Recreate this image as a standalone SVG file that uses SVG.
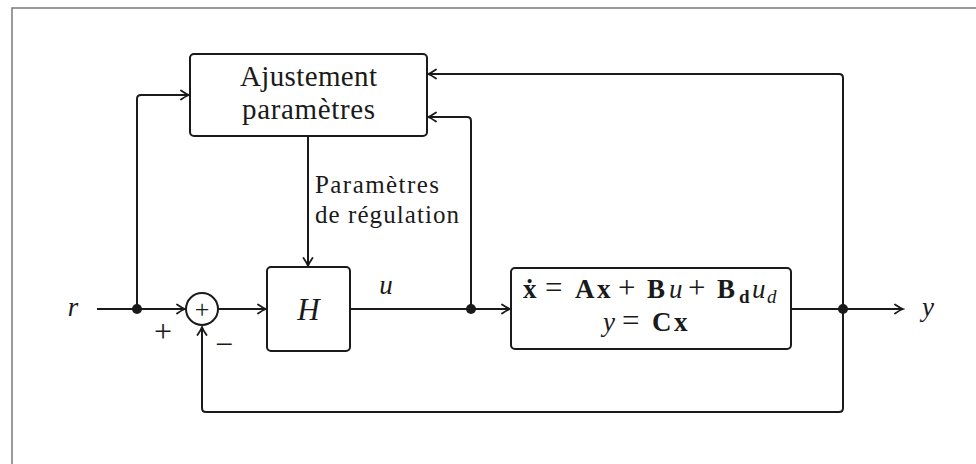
<svg xmlns="http://www.w3.org/2000/svg" width="976" height="464" viewBox="0 0 976 464">
<style>
.frame{fill:none;stroke:#7a7a7a;stroke-width:1.5}
.box{fill:#fff;stroke:#1a1a1a;stroke-width:2}
.ln{fill:none;stroke:#1a1a1a;stroke-width:2;stroke-linejoin:round}
.arr{marker-end:url(#ah)}
.dot{fill:#1a1a1a}
.t{fill:#1a1a1a}
.it{font-style:italic}
.b{font-weight:bold}
.op{font-size:31px}
</style>
<defs>
<marker id="ah" viewBox="-10 -6 12 12" refX="0" refY="0" markerWidth="12" markerHeight="12" markerUnits="userSpaceOnUse" orient="auto">
<path d="M-8,-4.5 Q-3,-1 0,0 Q-3,1 -8,4.5" fill="none" stroke="#1a1a1a" stroke-width="1.8" stroke-linecap="round"/>
</marker>
</defs>
<rect class="frame" x="12" y="8" width="980" height="470"/>
<g id="connectors">
<path class="ln arr" d="M97,309 H185"/>
<path class="ln arr" d="M137,309 V99 Q137,95 141,95 H189"/>
<path class="ln arr" d="M218,309 H266"/>
<path class="ln arr" d="M308,136 V266"/>
<path class="ln arr" d="M350,309 H510"/>
<path class="ln arr" d="M471,309 V121 Q471,117 467,117 H428"/>
<path class="ln arr" d="M791,309 H903"/>
<path class="ln arr" d="M843,309 V78 Q843,74 839,74 H428"/>
<path class="ln arr" d="M843,309 V408 Q843,412 839,412 H206 Q202,412 202,408 V327"/>
<circle class="dot" cx="137" cy="309" r="5"/>
<circle class="dot" cx="471" cy="309" r="5"/>
<circle class="dot" cx="843" cy="309" r="5"/>
</g>
<g font-family="'Liberation Serif', 'Times New Roman', serif" class="t">
<g id="ajustement">
<rect class="box" x="190" y="54" width="237" height="82" rx="4"/>
<text x="308.5" y="86" font-size="29" text-anchor="middle" textLength="137" lengthAdjust="spacing">Ajustement</text>
<text x="308.5" y="119" font-size="29" text-anchor="middle" textLength="133" lengthAdjust="spacing">paramètres</text>
</g>
<g id="label-parametres">
<text x="315" y="193" font-size="25" textLength="124" lengthAdjust="spacing">Paramètres</text>
<text x="315" y="223" font-size="25" textLength="144" lengthAdjust="spacing">de régulation</text>
</g>
<g id="sum">
<circle class="box" cx="202" cy="309" r="16"/>
<text x="202" y="318" font-size="26" text-anchor="middle">+</text>
<text x="163" y="342" font-size="32" text-anchor="middle">+</text>
<text x="224" y="355" font-size="32" text-anchor="middle">−</text>
</g>
<g id="H">
<rect class="box" x="267" y="267" width="83" height="84" rx="4"/>
<text class="it" x="308.5" y="320" font-size="31" text-anchor="middle">H</text>
</g>
<g id="state">
<rect class="box" x="511" y="268" width="280" height="81" rx="4"/>
<text y="298" font-size="27"><tspan class="b" x="523">ẋ</tspan><tspan class="op" x="545">=</tspan><tspan class="b" x="575">A</tspan><tspan class="b" x="597">x</tspan><tspan class="op" x="618">+</tspan><tspan class="b" x="647">B</tspan><tspan class="it" x="669">u</tspan><tspan class="op" x="688">+</tspan><tspan class="b" x="717">B</tspan><tspan class="b" font-size="19" x="739" dy="5">d</tspan><tspan class="it" x="752" dy="-5">u</tspan><tspan class="it" font-size="19" x="767" dy="5">d</tspan></text>
<text y="331" font-size="27"><tspan class="it" x="603">y</tspan><tspan class="op" x="622">=</tspan><tspan class="b" x="652">C</tspan><tspan class="b" x="674">x</tspan></text>
</g>
<g id="labels">
<text class="it" x="73" y="316" font-size="27" text-anchor="middle">r</text>
<text class="it" x="386" y="294" font-size="27" text-anchor="middle">u</text>
<text class="it" x="928" y="316" font-size="27" text-anchor="middle">y</text>
</g>
</g>
</svg>
